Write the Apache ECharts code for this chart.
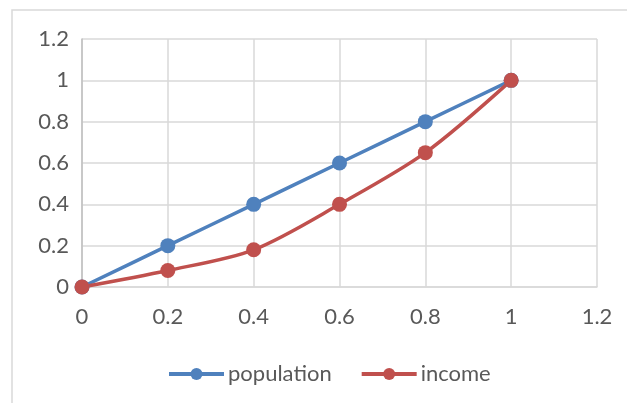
<!DOCTYPE html>
<html>
<head>
<meta charset="utf-8">
<script src="https://cdn.jsdelivr.net/npm/echarts@6/dist/echarts.min.js"></script>
<style>
  html, body { margin: 0; padding: 0; background: #fff; }
  #chart { width: 627px; height: 403px; }
</style>
</head>
<body>
<div id="chart"></div>
<script>
// Cumulative shares (x) and the two curves plotted against them
const xShares = [0, 0.2, 0.4, 0.6, 0.8, 1];
const population = [0, 0.2, 0.4, 0.6, 0.8, 1];
const income = [0, 0.08, 0.18, 0.4, 0.65, 1];
const seriesNames = ['population', 'income'];

const toPairs = ys => xShares.map((x, i) => [x, ys[i]]);
const font = 'Lato, "Open Sans", sans-serif';
const labelColor = '#595959';

const chart = echarts.init(document.getElementById('chart'), null, { renderer: 'canvas' });
chart.setOption({
  animation: false,
  backgroundColor: '#fff',
  graphic: [{
    type: 'rect',
    shape: { x: 12, y: 10, width: 640, height: 420 },
    style: { fill: 'none', stroke: '#d9d9d9', lineWidth: 1.5 },
    silent: true
  }],
  grid: { left: 82, right: 30, top: 39, bottom: 116, containLabel: false },
  xAxis: {
    type: 'value', min: 0, max: 1.2, interval: 0.2,
    axisLine: { show: true, lineStyle: { color: '#d9d9d9', width: 1.5 } },
    axisTick: { show: false },
    splitLine: { show: true, lineStyle: { color: '#d9d9d9', width: 1.5 } },
    axisLabel: {
      color: labelColor, fontFamily: font, fontSize: 22, margin: 19,
      formatter: v => String(Math.round(v * 10) / 10)
    }
  },
  yAxis: {
    type: 'value', min: 0, max: 1.2, interval: 0.2,
    axisLine: { show: true, lineStyle: { color: '#bfbfbf', width: 1.5 } },
    axisTick: { show: false },
    splitLine: { show: true, lineStyle: { color: '#d9d9d9', width: 1.5 } },
    axisLabel: {
      color: labelColor, fontFamily: font, fontSize: 22, margin: 13,
      formatter: v => String(Math.round(v * 10) / 10)
    }
  },
  legend: {
    top: 358, left: 162,
    itemWidth: 55, itemHeight: 15, itemGap: 28,
    lineStyle: { width: 4 },
    textStyle: { color: labelColor, fontFamily: font, fontSize: 22, padding: [0, 0, 0, -1] },
    data: seriesNames
  },
  series: [
    {
      name: seriesNames[0], type: 'line', data: toPairs(population),
      smooth: 0.3, symbol: 'circle', symbolSize: 15,
      lineStyle: { color: '#4f81bd', width: 3.5 },
      itemStyle: { color: '#4f81bd' }
    },
    {
      name: seriesNames[1], type: 'line', data: toPairs(income),
      smooth: 0.3, symbol: 'circle', symbolSize: 15,
      lineStyle: { color: '#c0504d', width: 3.5 },
      itemStyle: { color: '#c0504d' }
    }
  ]
});
</script>
</body>
</html>
